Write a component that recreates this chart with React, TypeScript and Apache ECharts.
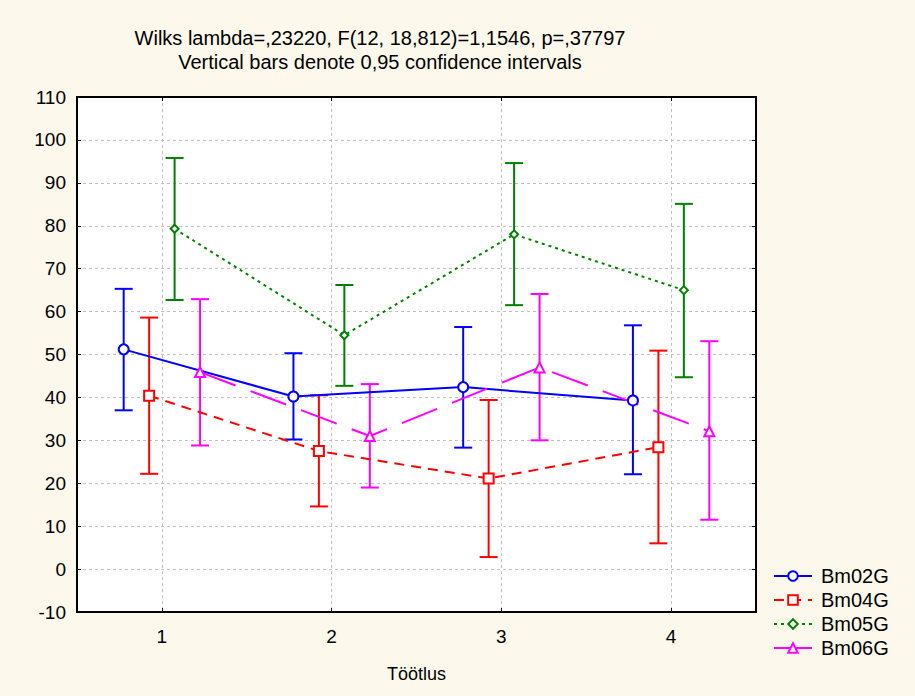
import React, { useEffect, useRef } from "react";
import * as echarts from "echarts";

const categories = [1, 2, 3, 4];
const seriesNames = ["Bm02G", "Bm04G", "Bm05G", "Bm06G"];
const offsets = [-0.225, -0.075, 0.075, 0.225];

const bm02Mean = [51.2, 40.2, 42.4, 39.3];
const bm02Low = [37.0, 30.2, 28.3, 22.1];
const bm02High = [65.3, 50.3, 56.4, 56.8];

const bm04Mean = [40.4, 27.5, 21.1, 28.4];
const bm04Low = [22.2, 14.6, 2.8, 6.0];
const bm04High = [58.6, 40.5, 39.4, 50.9];

const bm05Mean = [79.3, 54.5, 78.0, 65.0];
const bm05Low = [62.7, 42.7, 61.5, 44.7];
const bm05High = [95.8, 66.2, 94.6, 85.1];

const bm06Mean = [45.9, 31.0, 47.0, 32.1];
const bm06Low = [28.8, 19.0, 30.0, 11.5];
const bm06High = [62.9, 43.1, 64.1, 53.1];

const yTicks = [-10, 0, 10, 20, 30, 40, 50, 60, 70, 80, 90, 100, 110];

const titleLine1 = "Wilks lambda=,23220, F(12, 18,812)=1,1546, p=,37797";
const titleLine2 = "Vertical bars denote 0,95 confidence intervals";
const xName = "Töötlus";

const FONT = "'Liberation Sans', Arial, sans-serif";
const BG = "#fdf8ec";

const styles = [
  { color: "#0000ff", symbol: "circle", size: 10, dash: "solid" as any },
  { color: "#ff0000", symbol: "rect", size: 10, dash: [10, 7] },
  { color: "#008000", symbol: "diamond", size: 8, dash: [3, 4] },
  { color: "#ff00ff", symbol: "triangle", size: 10, dash: [38, 16] },
];

export default function App() {
  const ref = useRef<HTMLDivElement>(null);
  useEffect(() => {
    document.body.style.margin = "0";
    document.body.style.background = BG;
    const chart = echarts.init(ref.current!, null, { renderer: "svg" });
    const means = [bm02Mean, bm04Mean, bm05Mean, bm06Mean];
    const lows = [bm02Low, bm04Low, bm05Low, bm06Low];
    const highs = [bm02High, bm04High, bm05High, bm06High];

    const series: any[] = [];
    seriesNames.forEach((name, i) => {
      const st = styles[i];
      series.push({
        name: name + " CI",
        type: "custom",
        xAxisIndex: 0,
        yAxisIndex: 0,
        z: 2,
        data: categories.map((c, k) => [c + offsets[i], lows[i][k], highs[i][k]]),
        encode: { x: 0, y: [1, 2] },
        renderItem: (params: any, api: any) => {
          const x = api.value(0);
          const pLo = api.coord([x, api.value(1)]);
          const pHi = api.coord([x, api.value(2)]);
          const hw = 9;
          const style = { stroke: st.color, lineWidth: 2, fill: "none" };
          return {
            type: "group",
            children: [
              { type: "line", shape: { x1: pLo[0], y1: pHi[1], x2: pLo[0], y2: pLo[1] }, style },
              { type: "line", shape: { x1: pHi[0] - hw, y1: pHi[1], x2: pHi[0] + hw, y2: pHi[1] }, style },
              { type: "line", shape: { x1: pLo[0] - hw, y1: pLo[1], x2: pLo[0] + hw, y2: pLo[1] }, style },
            ],
          };
        },
      });
    });
    seriesNames.forEach((name, i) => {
      const st = styles[i];
      series.push({
        name,
        type: "line",
        z: 3,
        data: categories.map((c, k) => [c + offsets[i], means[i][k]]),
        symbol: st.symbol,
        symbolSize: st.size,
        showAllSymbol: true,
        lineStyle: { color: st.color, width: 2, type: st.dash },
        itemStyle: { color: "#ffffff", borderColor: st.color, borderWidth: 2 },
        emphasis: { disabled: true },
      });
    });

    chart.setOption({
      animation: false,
      backgroundColor: BG,
      textStyle: { fontFamily: FONT },
      graphic: [
        {
          type: "text",
          x: 380,
          y: 38,
          style: { text: titleLine1, font: `20px ${FONT}`, fill: "#000", textAlign: "center", textVerticalAlign: "middle" },
        },
        {
          type: "text",
          x: 380,
          y: 62,
          style: { text: titleLine2, font: `20px ${FONT}`, fill: "#000", textAlign: "center", textVerticalAlign: "middle" },
        },
      ],
      grid: {
        left: 77,
        right: 159,
        top: 97,
        bottom: 84,
        show: true,
        backgroundColor: "#ffffff",
        borderColor: "#000",
        borderWidth: 2,
      },
      legend: {
        orient: "vertical",
        left: 768,
        top: 561,
        itemWidth: 38,
        itemHeight: 12,
        itemGap: 4,
        data: seriesNames,
        textStyle: { fontSize: 20, color: "#000", fontFamily: FONT, padding: [0, 0, 0, 4] },
      },
      xAxis: [
        {
          type: "value",
          min: 0.5,
          max: 4.5,
          name: xName,
          nameLocation: "middle",
          nameGap: 53,
          nameTextStyle: { fontSize: 18, color: "#000", fontFamily: FONT },
          axisLine: { show: true, onZero: false, lineStyle: { color: "#000", width: 2 } },
          axisTick: { show: true, inside: true, length: 4, customValues: categories, lineStyle: { color: "#000", width: 1 } },
          axisLabel: { customValues: categories, fontSize: 19, color: "#000", margin: 15, fontFamily: FONT },
          splitLine: { show: true, lineStyle: { color: "#c0c0c0", type: [3, 3], width: 1 } },
        },
        {
          type: "value",
          position: "top",
          min: 0.5,
          max: 4.5,
          axisLine: { show: true, onZero: false, lineStyle: { color: "#000", width: 2 } },
          axisTick: { show: true, inside: true, length: 4, customValues: categories, lineStyle: { color: "#000", width: 1 } },
          axisLabel: { show: false, customValues: categories },
          splitLine: { show: false },
        },
      ],
      yAxis: [
        {
          type: "value",
          min: -10,
          max: 110,
          interval: 10,
          axisLine: { show: true, onZero: false, lineStyle: { color: "#000", width: 2 } },
          axisTick: { show: true, inside: true, length: 4, lineStyle: { color: "#000", width: 1 } },
          axisLabel: { fontSize: 19, color: "#000", margin: 11, fontFamily: FONT, customValues: yTicks },
          splitLine: { show: true, lineStyle: { color: "#c0c0c0", type: [3, 3], width: 1 } },
        },
        {
          type: "value",
          position: "right",
          min: -10,
          max: 110,
          interval: 10,
          axisLine: { show: true, onZero: false, lineStyle: { color: "#000", width: 2 } },
          axisTick: { show: true, inside: true, length: 4, lineStyle: { color: "#000", width: 1 } },
          axisLabel: { show: false },
          splitLine: { show: false },
        },
      ],
      series,
    });
    return () => chart.dispose();
  }, []);
  return (
    <div
      ref={ref}
      style={{ position: "absolute", left: 0, top: 0, width: 915, height: 696, background: BG }}
    />
  );
}
